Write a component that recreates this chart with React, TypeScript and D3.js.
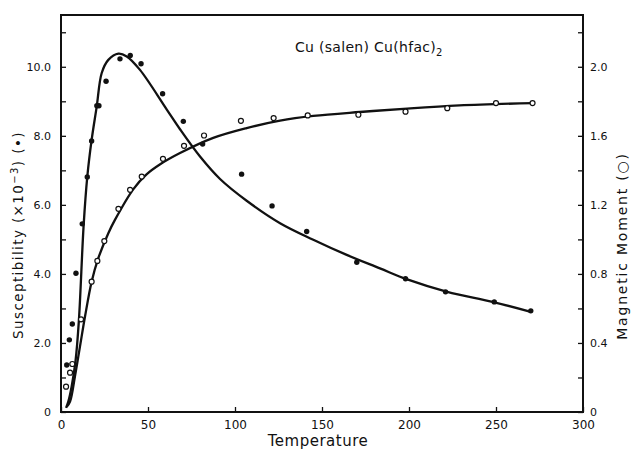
import React, { useEffect, useRef } from 'react';
import * as d3 from 'd3';

// measured susceptibility (x10^-3), filled dots
const chiTemp = [3.3, 4.8, 6.5, 8.6, 12.2, 15.1, 17.6, 20.6, 21.8, 25.9, 33.9, 39.8, 46, 58.4, 70.3, 81.4, 103.8, 121.3, 141.2, 170, 198, 221, 249, 270];
const chiVal = [1.36, 2.09, 2.55, 4.02, 5.45, 6.81, 7.85, 8.87, 8.87, 9.58, 10.23, 10.33, 10.09, 9.22, 8.42, 7.76, 6.89, 5.97, 5.23, 4.34, 3.86, 3.48, 3.19, 2.93];

// measured magnetic moment, open circles
const momTemp = [2.9, 5.2, 6.5, 11.5, 17.6, 20.9, 24.9, 33, 39.7, 46.4, 58.6, 70.7, 82.2, 103.4, 122.2, 141.8, 170.9, 198, 222, 250, 271];
const momVal = [0.147, 0.228, 0.278, 0.537, 0.755, 0.875, 0.99, 1.177, 1.287, 1.364, 1.467, 1.542, 1.602, 1.687, 1.703, 1.718, 1.722, 1.74, 1.76, 1.79, 1.79];

// fitted curves
const chiFitTemp = [2.9, 4.2, 6.1, 8.4, 10.3, 13, 15.1, 17.6, 20.5, 23.4, 27.2, 33, 37.8, 45.4, 60.8, 68.4, 79.9, 91.4, 106.7, 125.9, 145, 164.2, 183.3, 199, 222, 248, 270];
const chiFitVal = [0.12, 0.3, 0.73, 1.5, 2.67, 5.4, 6.81, 7.88, 8.84, 9.82, 10.2, 10.38, 10.3, 9.91, 8.76, 8.19, 7.4, 6.75, 6.12, 5.47, 4.99, 4.55, 4.16, 3.84, 3.48, 3.19, 2.9];
const momFitTemp = [3.3, 5.2, 8, 10.9, 13.8, 17.6, 21.4, 27.2, 31, 41.5, 49, 57, 68.4, 87.5, 106.7, 125.9, 145, 171.8, 199, 229, 271];
const momFitVal = [0.03, 0.06, 0.205, 0.379, 0.553, 0.755, 0.89, 1.036, 1.113, 1.29, 1.375, 1.435, 1.5, 1.588, 1.645, 1.688, 1.715, 1.738, 1.758, 1.776, 1.79];

// ticks
const xTicks = [0, 50, 100, 150, 200, 250, 300];
const chiTicks = [0, 2, 4, 6, 8, 10];
const chiMinor = [1, 3, 5, 7, 9, 11];
const momTicks = [0, 0.4, 0.8, 1.2, 1.6, 2.0];
const momMinor = [0.2, 0.6, 1.0, 1.4, 1.8, 2.2];

const W = 631;
const H = 449;
const FONT = 'DejaVu Sans, sans-serif';

const App = () => {
  const svgRef = useRef<SVGSVGElement>(null);

  useEffect(() => {
    document.body.style.margin = '0';
    const svg = d3.select(svgRef.current);
    svg.selectAll('*').remove();
    const margin = { top: 15, right: 48, bottom: 37, left: 61 };

    const x = d3.scaleLinear().domain([0, 300]).range([margin.left, W - margin.right]);
    const yChi = d3.scaleLinear().domain([0, 11.5]).range([H - margin.bottom, margin.top]);
    const yMom = d3.scaleLinear().domain([0, 2.3]).range([H - margin.bottom, margin.top]);

    const styleAxis = (g, size) => {
      g.select('.domain').remove();
      g.selectAll('line').attr('stroke', '#111').attr('stroke-width', 1.3);
      g.selectAll('text').attr('font-family', FONT).attr('font-size', size).attr('fill', '#111');
    };

    // bottom axis
    svg
      .append('g')
      .attr('transform', `translate(0,${H - margin.bottom})`)
      .call(d3.axisBottom(x).tickValues(xTicks).tickSizeInner(-5).tickSizeOuter(0).tickPadding(8).tickFormat(d3.format('d')))
      .call(g => styleAxis(g, 12));

    // left axis
    svg
      .append('g')
      .attr('transform', `translate(${margin.left},0)`)
      .call(d3.axisLeft(yChi).tickValues(chiTicks).tickSizeInner(-5).tickSizeOuter(0).tickPadding(10).tickFormat(d => (d === 0 ? '0' : d3.format('.1f')(d))))
      .call(g => styleAxis(g, 11));
    svg
      .append('g')
      .attr('transform', `translate(${margin.left},0)`)
      .call(d3.axisLeft(yChi).tickValues(chiMinor).tickSizeInner(-5).tickSizeOuter(0).tickFormat(() => ''))
      .call(g => styleAxis(g, 11));

    // right axis
    svg
      .append('g')
      .attr('transform', `translate(${W - margin.right},0)`)
      .call(d3.axisRight(yMom).tickValues(momTicks).tickSizeInner(-5).tickSizeOuter(0).tickPadding(7).tickFormat(d => (d === 0 ? '0' : d3.format('.1f')(d))))
      .call(g => styleAxis(g, 11));
    svg
      .append('g')
      .attr('transform', `translate(${W - margin.right},0)`)
      .call(d3.axisRight(yMom).tickValues(momMinor).tickSizeInner(-5).tickSizeOuter(0).tickFormat(() => ''))
      .call(g => styleAxis(g, 11));

    // frame
    svg
      .append('rect')
      .attr('x', margin.left)
      .attr('y', margin.top)
      .attr('width', W - margin.left - margin.right)
      .attr('height', H - margin.top - margin.bottom)
      .attr('fill', 'none')
      .attr('stroke', '#111')
      .attr('stroke-width', 2);

    // fit lines
    const chiLine = d3
      .line<number>()
      .x((d, i) => x(chiFitTemp[i]))
      .y(d => yChi(d))
      .curve(d3.curveCatmullRom.alpha(0.5));
    const momLine = d3
      .line<number>()
      .x((d, i) => x(momFitTemp[i]))
      .y(d => yMom(d))
      .curve(d3.curveCatmullRom.alpha(0.5));

    svg.append('path').attr('d', chiLine(chiFitVal)).attr('fill', 'none').attr('stroke', '#111').attr('stroke-width', 2.3);
    svg.append('path').attr('d', momLine(momFitVal)).attr('fill', 'none').attr('stroke', '#111').attr('stroke-width', 2.3);

    // points
    svg
      .selectAll('.chi')
      .data(chiVal)
      .enter()
      .append('circle')
      .attr('class', 'chi')
      .attr('cx', (d, i) => x(chiTemp[i]))
      .attr('cy', d => yChi(d))
      .attr('r', 2.7)
      .attr('fill', '#111');

    svg
      .selectAll('.mom')
      .data(momVal)
      .enter()
      .append('circle')
      .attr('class', 'mom')
      .attr('cx', (d, i) => x(momTemp[i]))
      .attr('cy', d => yMom(d))
      .attr('r', 2.5)
      .attr('fill', '#fff')
      .attr('stroke', '#111')
      .attr('stroke-width', 1.2);

    // title
    const title = svg
      .append('text')
      .attr('x', 295)
      .attr('y', 52)
      .attr('font-family', FONT)
      .attr('font-size', 14)
      .attr('letter-spacing', 0.3)
      .attr('fill', '#111');
    title.append('tspan').text('Cu (salen) Cu(hfac)');
    title.append('tspan').attr('dy', 4).attr('font-size', 10).text('2');

    // axis titles
    svg
      .append('text')
      .attr('x', 318)
      .attr('y', 446)
      .attr('text-anchor', 'middle')
      .attr('font-family', FONT)
      .attr('font-size', 15)
      .attr('letter-spacing', 0.5)
      .attr('fill', '#111')
      .text('Temperature');

    const yl = svg
      .append('text')
      .attr('transform', 'translate(23,235) rotate(-90)')
      .attr('text-anchor', 'middle')
      .attr('font-family', FONT)
      .attr('font-size', 13.5)
      .attr('letter-spacing', 1.4)
      .attr('fill', '#111');
    yl.append('tspan').text('Susceptibility (×10');
    yl.append('tspan').attr('dy', -5).attr('font-size', 10).text('−3');
    yl.append('tspan').attr('dy', 5).text(') (•)');

    svg
      .append('text')
      .attr('transform', 'translate(627,246) rotate(-90)')
      .attr('text-anchor', 'middle')
      .attr('font-family', FONT)
      .attr('font-size', 14)
      .attr('letter-spacing', 1.8)
      .attr('fill', '#111')
      .text('Magnetic Moment (○)');

    return () => {
      svg.selectAll('*').remove();
    };
  }, []);

  return <svg ref={svgRef} width={W} height={H} style={{ display: 'block', background: '#fff' }}></svg>;
};

export default App;
